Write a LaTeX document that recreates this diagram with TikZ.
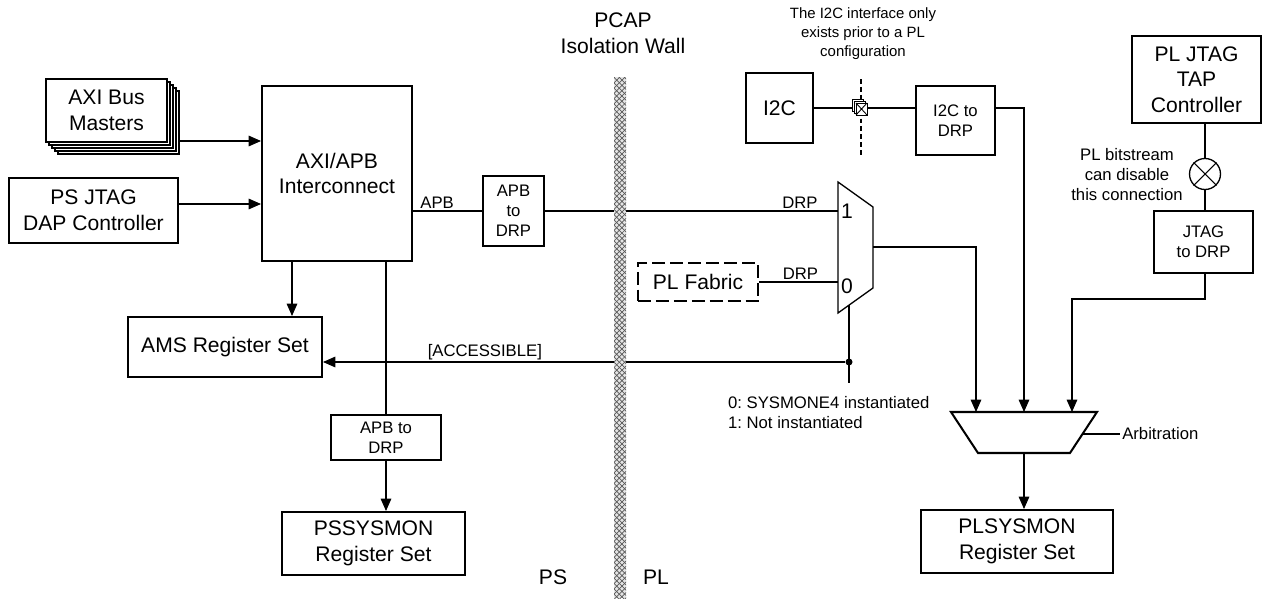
\documentclass[tikz,border=0pt]{standalone}
\usepackage{fontspec}
\setmainfont{Liberation Sans}
\usepackage{tikz}
\usetikzlibrary{arrows.meta, positioning, calc, patterns}
\frenchspacing

\newcommand{\blkfont}{\fontsize{12}{14.6}\selectfont}
\newcommand{\lblfont}{\fontsize{9.5}{11.4}\selectfont}
\newcommand{\notefont}{\fontsize{8.5}{10.8}\selectfont}

\begin{document}
\begin{tikzpicture}[x=0.02cm, y=-0.02cm,
  blk/.style={draw, line width=1.15pt, align=center, font=\blkfont, inner sep=0pt, fill=white},
  sblk/.style={blk, font=\lblfont},
  thinblk/.style={blk, line width=0.75pt},
  wire/.style={line width=0.6pt},
  arr/.style={wire, -{Triangle[length=7pt, width=6pt]}},
  lbl/.style={font=\lblfont, inner sep=1pt}]

\useasboundingbox (0,0) rectangle (1262,602);

% PS side blocks
\foreach \k in {4,3,2,1}
  \node[thinblk, minimum width=2.42cm, minimum height=1.26cm] (mst\k) at (106.5+3*\k,110.5+3*\k) {};
\node[thinblk, minimum width=2.42cm, minimum height=1.26cm] (masters) at (106.5,110.5) {AXI Bus\\Masters};
\node[blk, minimum width=3.38cm, minimum height=1.3cm] (psjtag) at (93.5,210.5) {PS JTAG\\DAP Controller};
\node[blk, minimum width=3.0cm, minimum height=3.5cm] (axi) at (337,173.5) {AXI/APB\\Interconnect};
\node[blk, minimum width=3.88cm, minimum height=1.2cm] (ams) at (225,347) {AMS Register Set};
\node[sblk, minimum width=2.2cm, minimum height=0.9cm] (apbb) at (386,437.5) {APB to\\DRP};
\node[blk, minimum width=3.66cm, minimum height=1.26cm] (pssysmon) at (373.5,543.5) {PSSYSMON\\Register Set};
\node[sblk, minimum width=1.22cm, minimum height=1.4cm] (apba) at (513.5,211) {APB\\to\\DRP};

% PL side blocks
\node[blk, dash pattern=on 7.4pt off 2.8pt, minimum width=2.4cm, minimum height=0.76cm] (plfabric) at (698,282) {PL Fabric};
\node[blk, minimum width=1.34cm, minimum height=1.4cm] (i2c) at (779.5,108) {I2C};
\node[thinblk, font=\lblfont, minimum width=1.58cm, minimum height=1.38cm] (i2cdrp) at (955.5,120.5) {I2C to\\DRP};
\node[blk, minimum width=2.58cm, minimum height=1.74cm] (pljtag) at (1196.5,79.5) {PL JTAG\\TAP\\Controller};
\node[sblk, minimum width=1.98cm, minimum height=1.24cm] (jtagdrp) at (1203.5,242) {JTAG\\to DRP};
\node[blk, minimum width=3.84cm, minimum height=1.26cm] (plsysmon) at (1017,541.5) {PLSYSMON\\Register Set};

% Mux
\draw[line width=0.75pt, fill=white] (838,182) -- (873,207) -- (873,288) -- (838,313) -- cycle;
\coordinate (mux1) at (838,211);
\coordinate (mux0) at (838,282);
\coordinate (muxout) at (873,247);
\coordinate (muxsel) at (849,305);
\coordinate (selend) at (849,383);
\node[font=\blkfont, inner sep=0pt] (one) at (847,211) {1};
\node[font=\blkfont, inner sep=0pt] (zero) at (847,286) {0};

% Arbitration
\draw[line width=1.15pt] (951,412) -- (1097,412) -- (1070,453) -- (978,453) -- cycle;
\coordinate (arbin1) at (976,412);
\coordinate (arbin2) at (1024,412);
\coordinate (arbin3) at (1072,412);
\coordinate (arbout) at (1024,453);
\coordinate (arbside) at (1083,434);

% PS connections
\draw[arr] (mst4.east |- 0,141) -- (axi.west |- 0,141);
\draw[arr] (psjtag.east |- 0,204) -- (axi.west |- 0,204);
\draw[arr] (axi.south -| 292,0) -- (ams.north -| 292,0);
\draw[wire] (axi.south -| apbb.north) -- (apbb.north);
\draw[arr] (apbb.south) -- (apbb.south |- pssysmon.north);
\draw[wire] (axi.east |- apba.west) -- node[lbl, above, pos=0.35] {APB} (apba.west);

% PL connections
\draw[wire] (apba.east) -- node[lbl, above, pos=0.87] {DRP} (mux1);
\draw[wire] (plfabric.east) -- node[lbl, above, pos=0.525] {DRP} (mux0);
\draw[arr] (muxout) -| (arbin1);
\draw[wire] (muxsel) -- (selend);
\node[circle, fill, inner sep=0pt, minimum size=0.14cm] (seldot) at (849,362) {};
\draw[arr] (seldot) -- node[lbl, above, pos=0.69] {[ACCESSIBLE]} (ams.east |- seldot);
\node[lbl, align=left, anchor=west] (selnote) at (726,413) {0: SYSMONE4 instantiated\\1: Not instantiated};

% I2C path
\draw[wire] (i2c.east) -- (i2c.east -| i2cdrp.west);
\draw[arr] (i2cdrp.east |- i2c.east) -| (arbin2);
\coordinate (cuttop) at (861,79);
\coordinate (cutbot) at (861,158);
\draw[wire, dash pattern=on 2.8pt off 1.7pt] (cuttop) -- (cutbot);
\foreach \d in {0,2,4}
  \draw[line width=0.5pt, fill=white] (852+\d,99+\d) rectangle (863+\d,111+\d);
\draw[line width=0.5pt] (856,103) -- (867,115) (856,115) -- (867,103);
\node[font=\notefont, align=center] (i2cnote) at (863,34) {The I2C interface only\\exists prior to a PL\\configuration};

% PL JTAG path
\node[circle, draw, line width=0.75pt, minimum size=0.62cm, inner sep=0pt] (xsw) at (1205,174) {};
\draw[wire] (xsw.45) -- (xsw.225) (xsw.135) -- (xsw.315);
\draw[wire] (pljtag.south -| xsw.north) -- (xsw.north);
\draw[wire] (xsw.south) -- (jtagdrp.north -| xsw.south);
\draw[arr] (jtagdrp.south -| xsw.south) -- ++(0,25) -| (arbin3);
\node[lbl, align=center] (bsnote) at (1127,175) {PL bitstream\\can disable\\this connection};

% Arbitration out
\draw[arr] (arbout) -- (arbout |- plsysmon.north);
\draw[wire] (arbside) -- ++(37,0) node[lbl, right] (arblbl) {Arbitration};

% Isolation wall
\fill[gray!20] (614,77) rectangle (626,598);
\fill[pattern=north east lines, pattern color=gray!70!black] (614,77) rectangle (626,598);
\fill[pattern=north west lines, pattern color=gray!70!black] (614,77) rectangle (626,598);
\node[font=\blkfont, align=center] (pcap) at (623,33) {PCAP\\Isolation Wall};
\node[font=\blkfont] (pslbl) at (553,577) {PS};
\node[font=\blkfont] (pllbl) at (656,577) {PL};
\end{tikzpicture}
\end{document}
